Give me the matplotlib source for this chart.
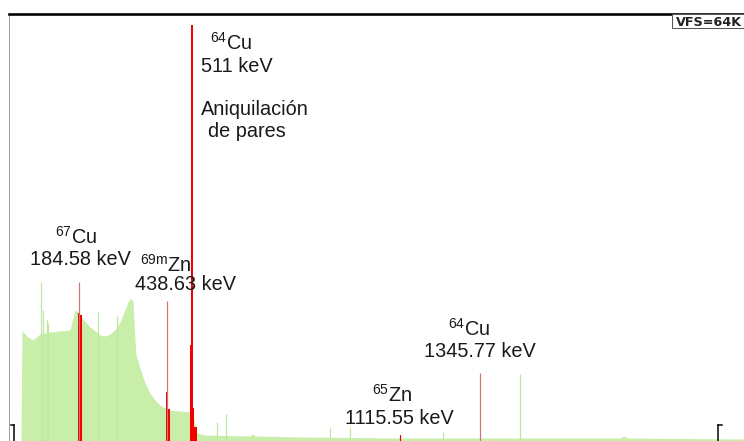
import matplotlib
matplotlib.use("Agg")
import matplotlib.pyplot as plt
from matplotlib.patches import Rectangle

plt.rcParams['mathtext.fontset'] = 'custom'
plt.rcParams['mathtext.rm'] = 'Liberation Sans'
plt.rcParams['mathtext.it'] = 'Liberation Sans:italic'
plt.rcParams['mathtext.bf'] = 'Liberation Sans:bold'

# ---------------- data (energy in keV, counts in arbitrary units) ----------------
cont_E = [16.5, 19.4, 25.2, 36.8, 51.3, 71.5, 100.5, 129.5, 158.4, 167.1, 172.9,
          181.6, 193.2, 216.3, 245.3, 259.8, 274.3, 288.7, 303.2, 317.7, 326.4,
          335.1, 340.9, 346.7, 349.5, 361.1, 375.6, 390.1, 404.6, 419.0, 433.5,
          448.0, 477.0, 505.9, 517.5, 526.2, 549.4, 679.7, 685.5, 697.1, 824.5,
          1114.1, 1751.0, 1763.0, 1774.0, 2110.0]
cont_C = [0, 111, 108, 104, 101, 107, 109, 110, 111, 123, 131,
          129, 123, 114, 106, 105, 107, 111, 119, 131, 139,
          143, 139, 101, 86, 73, 58, 48, 41, 36, 33,
          31, 30, 29, 21, 8, 6, 5, 7, 5, 4,
          3, 3, 5, 3, 2]

bg_line_E = [74.4, 81.1, 90.9, 95.6, 238.6, 293.7, 583.2, 609.3, 911.2, 968.9, 1238.1, 1460.8]
bg_line_C = [159, 131, 121, 118, 129, 125, 19, 27, 14, 14, 9, 67]

peak_E = [184.58, 438.63, 511.0, 1115.55, 1345.77]
peak_tip = [159, 140, 416, 6, 68]
peak_core = [128, 49, 96, 6, 0]
peak_core_w = [8.0, 3.0, 8.0, 5.0, 0.0]
peak_bright = [False, False, True, True, False]

roi_lo = [181.5, 436.5, 505.0, 519.0]
roi_hi = [194.3, 448.0, 519.0, 526.5]
roi_C = [126, 32, 33, 14]

bracket_E = [-2.3, 2035.0]
bracket_dir = [-1, 1]
bracket_C = 16

labels = [
    ("$^{64}$Cu", 210, 50), ("511 keV", 201, 72),
    ("Aniquilación", 201, 115), ("de pares", 208, 137),
    ("$^{67}$Cu", 55, 244), ("184.58 keV", 30, 265),
    ("$^{\\mathrm{69m}}$Zn", 140, 272), ("438.63 keV", 135, 290),
    ("$^{65}$Zn", 372, 402), ("1115.55 keV", 345, 424),
    ("$^{64}$Cu", 448, 336), ("1345.77 keV", 424, 357),
]

# ---------------- style ----------------
W, H = 744, 441
GREEN = '#c8eeaa'
GREEN_LINE = '#bfe89f'
RED = '#f20000'
PALE_RED = '#cf7676'
PX = 0.72  # one pixel in points at 100 dpi

fig = plt.figure(figsize=(W / 100, H / 100), dpi=100)
fig.patch.set_facecolor('white')
ax = fig.add_axes([9 / W, 0, (W - 9) / W, (H - 14) / H])
ax.set_xlim(-18.2, 2110.4)
ax.set_ylim(0, 427)
ax.set_xticks([])
ax.set_yticks([])
for s in ('right', 'bottom'):
    ax.spines[s].set_visible(False)
ax.spines['top'].set_color('black')
ax.spines['top'].set_linewidth(2.6 * PX)
ax.spines['left'].set_color('#a0a0a0')
ax.spines['left'].set_linewidth(1.0 * PX)

# continuum
ax.fill_between(cont_E, cont_C, 0, color=GREEN, lw=0, zorder=1)
ax.vlines(bg_line_E, 0, bg_line_C, color=GREEN_LINE, lw=1.2 * PX, zorder=1)

# ROI regions in red
for lo, hi, c in zip(roi_lo, roi_hi, roi_C):
    ax.fill_between([lo, hi], [c, c], 0, color=RED, lw=0, zorder=2)

# peak cores and tips
for e, tip, core, w, bright in zip(peak_E, peak_tip, peak_core, peak_core_w, peak_bright):
    if core > 0:
        ax.bar(e, core, width=w, color=RED, lw=0, zorder=3)
    ax.vlines(e, 0, tip, color=RED if bright else PALE_RED,
              lw=(2.0 if e == 511.0 else 1.2) * PX, zorder=4)

# ROI cursor brackets
for e, d in zip(bracket_E, bracket_dir):
    ax.plot([e, e], [0, bracket_C], color='black', lw=1.5 * PX, zorder=5, clip_on=False)
    ax.plot([e, e + d * 11], [bracket_C, bracket_C], color='black', lw=1.5 * PX,
            zorder=5, clip_on=False)

# labels
for txt, px, py in labels:
    fig.text(px / W, 1 - py / H, txt, ha='left', va='baseline',
             fontsize=14.3, family='Liberation Sans', color='#1a1a1a')

# VFS box
fig.patches.append(Rectangle((672 / W, 1 - 28 / H), 80 / W, 14 / H,
                             transform=fig.transFigure, facecolor='white',
                             edgecolor='#555555', lw=1.0 * PX))
fig.text(742 / W, 1 - 26 / H, "VFS=64K", ha='right', va='baseline', fontsize=9.2,
         family=['Liberation Sans Narrow', 'DejaVu Sans'], weight='bold', color='#222222')

fig.savefig("out.png", dpi=100, facecolor='white')
